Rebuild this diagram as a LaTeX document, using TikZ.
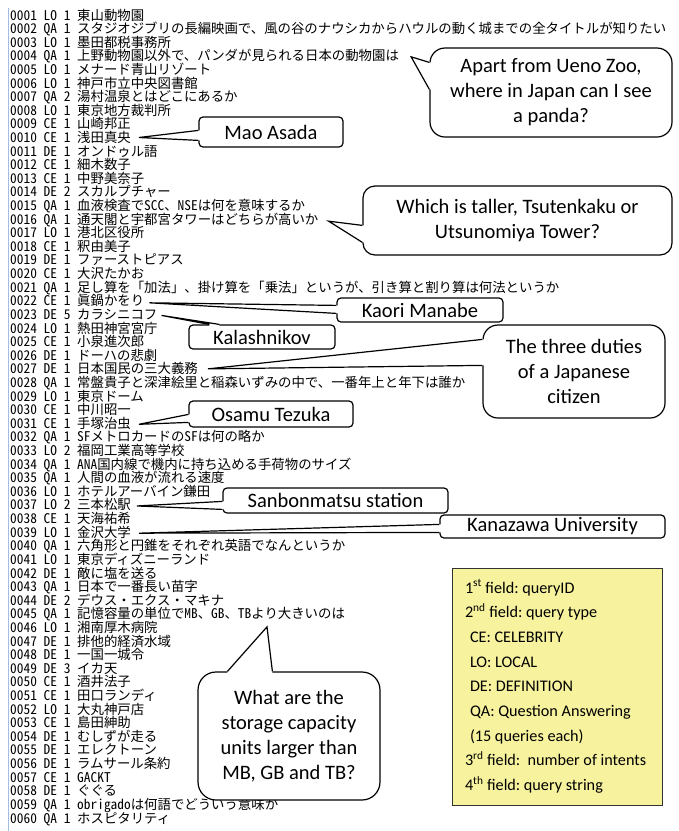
\documentclass[tikz,border=0pt]{standalone}
\usepackage{fontspec}
\setmainfont{Carlito}
\newfontfamily\jp[RawFeature=+hwid]{Noto Sans CJK JP}
\usetikzlibrary{calc}
\frenchspacing
\definecolor{legendyellow}{RGB}{247,242,158}
\definecolor{marginblue}{RGB}{160,190,225}
\newcommand\calltail[4]{%
  \fill[white] #1 -- #2 -- ($#2+#4$) -- ($#3+#4$) -- #3 -- cycle;
  \draw[tailline] #2 -- #1 -- #3;}
\tikzset{
  idtxt/.style={inner sep=0pt, anchor=base west, font=\jp\fontsize{13.4}{13.6}\selectfont},
  jtxt/.style={inner sep=0pt, anchor=base west, font=\jp\fontsize{13.4}{13.6}\selectfont},
  bubble/.style={draw=black, line width=1.2pt, fill=white, rounded corners=15pt, align=flush center,
    inner sep=0pt, font=\frenchspacing\fontsize{20.5}{25}\selectfont},
  lbox/.style={draw=black, line width=1.2pt, fill=white, rounded corners=4pt, align=flush center,
    inner sep=0pt, font=\frenchspacing\fontsize{20.5}{25}\selectfont},
  tailline/.style={draw=black, line width=1.2pt, line join=miter},
  legendbox/.style={draw=black!80, line width=0.9pt, fill=legendyellow, align=flush left,
    inner xsep=13pt, inner ysep=0pt, font=\frenchspacing\fontsize{16.2}{24.7}\selectfont}
}
\begin{document}
\begin{tikzpicture}[x=1pt,y=-1pt]
\useasboundingbox (0,0) rectangle (679,831);
\fill[white] (0,0) rectangle (679,831);
\draw[marginblue, line width=1pt] (8,8) -- (8,831);
\foreach \qid/\qty/\qn/\qs [count=\i] in {
0001/LO/1/東山動物園,
0002/QA/1/スタジオジブリの長編映画で、風の谷のナウシカからハウルの動く城までの全タイトルが知りたい,
0003/LO/1/墨田都税事務所,
0004/QA/1/上野動物園以外で、パンダが見られる日本の動物園は,
0005/LO/1/メナード青山リゾート,
0006/LO/1/神戸市立中央図書館,
0007/QA/2/湯村温泉とはどこにあるか,
0008/LO/1/東京地方裁判所,
0009/CE/1/山崎邦正,
0010/CE/1/浅田真央,
0011/DE/1/オンドゥル語,
0012/CE/1/細木数子,
0013/CE/1/中野美奈子,
0014/DE/2/スカルプチャー,
0015/QA/1/血液検査でＳＣＣ、ＮＳＥは何を意味するか,
0016/QA/1/通天閣と宇都宮タワーはどちらが高いか,
0017/LO/1/港北区役所,
0018/CE/1/釈由美子,
0019/DE/1/ファーストピアス,
0020/CE/1/大沢たかお,
0021/QA/1/足し算を「加法」、掛け算を「乗法」というが、引き算と割り算は何法というか,
0022/CE/1/眞鍋かをり,
0023/DE/5/カラシニコフ,
0024/LO/1/熱田神宮宮庁,
0025/CE/1/小泉進次郎,
0026/DE/1/ドーハの悲劇,
0027/DE/1/日本国民の三大義務,
0028/QA/1/常盤貴子と深津絵里と稲森いずみの中で、一番年上と年下は誰か,
0029/LO/1/東京ドーム,
0030/CE/1/中川昭一,
0031/CE/1/手塚治虫,
0032/QA/1/SFメトロカードのSFは何の略か,
0033/LO/2/福岡工業高等学校,
0034/QA/1/ANA国内線で機内に持ち込める手荷物のサイズ,
0035/QA/1/人間の血液が流れる速度,
0036/LO/1/ホテルアーバイン鎌田,
0037/LO/2/三本松駅,
0038/CE/1/天海祐希,
0039/LO/1/金沢大学,
0040/QA/1/六角形と円錐をそれぞれ英語でなんというか,
0041/LO/1/東京ディズニーランド,
0042/DE/1/敵に塩を送る,
0043/QA/1/日本で一番長い苗字,
0044/DE/2/デウス・エクス・マキナ,
0045/QA/1/記憶容量の単位でMB、GB、TBより大きいのは,
0046/LO/1/湘南厚木病院,
0047/DE/1/排他的経済水域,
0048/DE/1/一国一城令,
0049/DE/3/イカ天,
0050/CE/1/酒井法子,
0051/CE/1/田口ランディ,
0052/LO/1/大丸神戸店,
0053/CE/1/島田紳助,
0054/DE/1/むしずが走る,
0055/DE/1/エレクトーン,
0056/DE/1/ラムサール条約,
0057/CE/1/GACKT,
0058/DE/1/ぐぐる,
0059/QA/1/obrigadoは何語でどういう意味か,
0060/QA/1/ホスピタリティ}{
  \pgfmathsetmacro\yb{20+(\i-1)*13.61}
  \node[idtxt] (i\qid) at (10,\yb) {\qid};
  \node[idtxt] (t\qid) at (43.5,\yb) {\qty};
  \node[idtxt] (n\qid) at (63.6,\yb) {\qn};
  \node[jtxt] (l\qid) at (77,\yb) {\qs};
}

% callout boxes
\node[bubble, minimum width=242pt, minimum height=89pt] (cPanda) at (551,92.5)
  {Apart from Ueno Zoo,\\where in Japan can I see\\a panda?};
\node[lbox, minimum width=144pt, minimum height=30pt] (cMao) at (271,132) {Mao Asada};
\node[bubble, rounded corners=12pt, minimum width=309pt, minimum height=69pt] (cTsu) at (517.5,220.5)
  {Which is taller, Tsutenkaku or\\Utsunomiya Tower?};
\node[lbox, minimum width=166pt, minimum height=24pt] (cKaori) at (420,310) {Kaori Manabe};
\node[lbox, minimum width=146pt, minimum height=24pt] (cKal) at (262,337) {Kalashnikov};
\node[bubble, minimum width=182pt, minimum height=93pt] (cDuty) at (574,371.5)
  {The three duties\\of a Japanese\\citizen};
\node[lbox, minimum width=164pt, minimum height=26pt] (cOsamu) at (271,414) {Osamu Tezuka};
\node[lbox, minimum width=225pt, minimum height=25pt] (cSanbon) at (335.5,500.5) {Sanbonmatsu station};
\node[lbox, minimum width=225pt, minimum height=23pt] (cKana) at (552.5,526.5) {Kanazawa University};
\node[bubble, rounded corners=18pt, minimum width=182pt, minimum height=128pt] (cStor) at (289,736)
  {What are the\\storage capacity\\units larger than\\MB, GB and TB?};
\node[legendbox, minimum width=210pt, minimum height=237pt, text width=184pt] (legend) at (557,686.5)
  {1\textsuperscript{st} field: queryID\\
   2\textsuperscript{nd} field: query type\\
   \hspace*{5pt}CE: CELEBRITY\\
   \hspace*{5pt}LO: LOCAL\\
   \hspace*{5pt}DE: DEFINITION\\
   \hspace*{5pt}QA: Question Answering\\
   \hspace*{5pt}(15 queries each)\\
   \mbox{3\textsuperscript{rd} field:\ \ number of intents}\\
   4\textsuperscript{th} field: query string};

% tails
\coordinate (pPanda) at ($(l0004.base east)+(12,-4)$);
\calltail{(pPanda)}{($(cPanda.north west)+(0,15)$)}{($(cPanda.north west)+(0,42)$)}{(1.5,0)}
\coordinate (pMao) at ($(l0010.base east)+(8,-5)$);
\calltail{(pMao)}{($(cMao.north west)+(0,14)$)}{($(cMao.north west)+(0,24)$)}{(1.5,0)}
\coordinate (pTsu) at ($(l0016.base east)+(10,-3)$);
\calltail{(pTsu)}{($(cTsu.north west)+(0,40)$)}{($(cTsu.north west)+(0,57)$)}{(1.5,0)}
\coordinate (pKaori) at ($(l0022.base east)+(5,-3)$);
\calltail{(pKaori)}{($(cKaori.north west)+(0,8)$)}{($(cKaori.north west)+(0,16)$)}{(1.5,0)}
\coordinate (pKal) at ($(l0023.base east)+(4,-4)$);
\calltail{(pKal)}{($(cKal.north west)+(21,0)$)}{($(cKal.north west)+(31,0)$)}{(0,1.5)}
\coordinate (pDuty) at ($(l0027.base east)+(10,-5)$);
\calltail{(pDuty)}{($(cDuty.north west)+(0,15)$)}{($(cDuty.north west)+(0,41)$)}{(1.5,0)}
\coordinate (pOsamu) at ($(l0031.base east)+(8,-4)$);
\calltail{(pOsamu)}{($(cOsamu.north west)+(0,14)$)}{($(cOsamu.north west)+(0,22)$)}{(1.5,0)}
\coordinate (pSanbon) at ($(l0037.base east)+(6,-4)$);
\calltail{(pSanbon)}{($(cSanbon.north west)+(0,14)$)}{($(cSanbon.north west)+(0,22)$)}{(1.5,0)}
\coordinate (pKana) at ($(l0039.base east)+(8,-4)$);
\calltail{(pKana)}{($(cKana.north west)+(0,10)$)}{($(cKana.north west)+(0,18)$)}{(1.5,0)}
\coordinate (pStor) at ($(l0045.base west)+(190,8)$);
\calltail{(pStor)}{($(cStor.north west)+(30,0)$)}{($(cStor.north west)+(75,0)$)}{(0,1.5)}
\end{tikzpicture}
\end{document}
